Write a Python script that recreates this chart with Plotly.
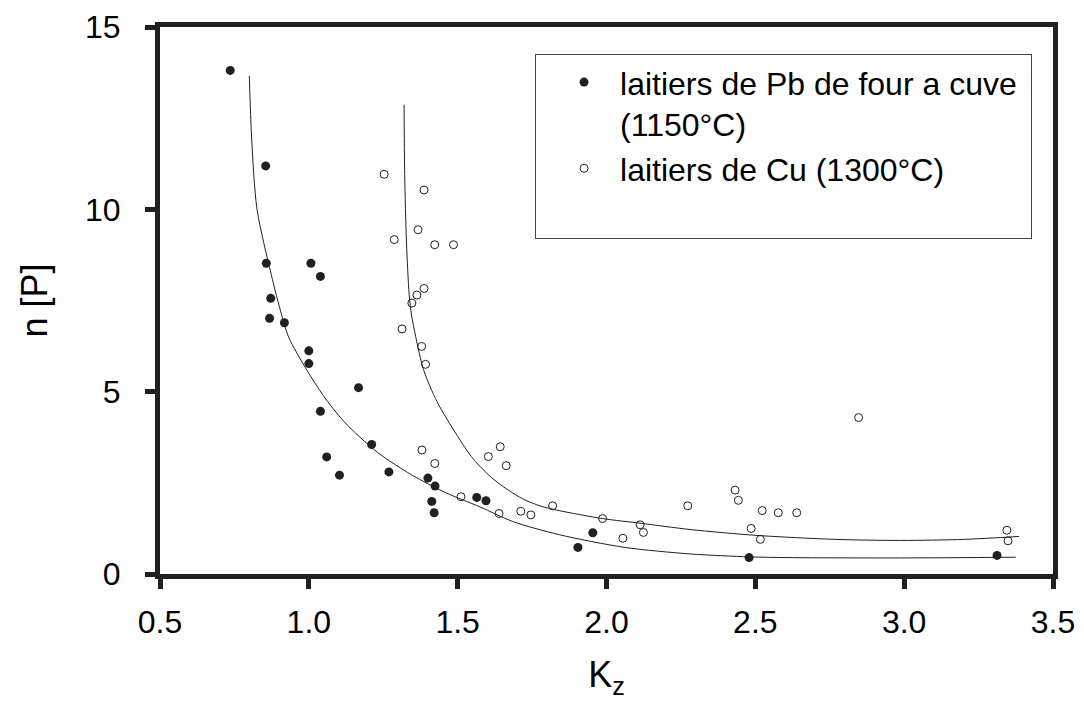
import plotly.graph_objects as go

# ---- data ----
pb_k = [0.736, 0.855, 0.857, 1.007, 1.039, 0.872, 0.868, 0.918, 1.000, 1.000,
        1.167, 1.039, 1.211, 1.060, 1.103, 1.269, 1.400, 1.424, 1.413, 1.421,
        1.564, 1.595, 1.954, 1.904, 2.479, 3.312]
pb_n = [13.81, 11.19, 8.52, 8.52, 8.16, 7.56, 7.01, 6.89, 6.12, 5.77,
        5.11, 4.46, 3.55, 3.21, 2.71, 2.80, 2.63, 2.41, 1.99, 1.68,
        2.10, 2.01, 1.13, 0.73, 0.45, 0.51]

cu_k = [1.253, 1.387, 1.367, 1.287, 1.423, 1.486, 1.387, 1.363, 1.346, 1.313,
        1.379, 1.392, 1.380, 1.423, 1.603, 1.643, 1.663, 1.511, 1.639, 1.712,
        1.746, 1.819, 1.987, 2.055, 2.113, 2.124, 2.273, 2.432, 2.443, 2.486,
        2.517, 2.523, 2.577, 2.639, 2.847, 3.345, 3.349]
cu_n = [10.96, 10.53, 9.44, 9.17, 9.03, 9.03, 7.83, 7.65, 7.43, 6.72,
        6.24, 5.75, 3.40, 3.03, 3.22, 3.49, 2.97, 2.12, 1.66, 1.72,
        1.62, 1.87, 1.52, 0.98, 1.35, 1.14, 1.87, 2.30, 2.02, 1.25,
        0.95, 1.74, 1.68, 1.68, 4.29, 1.20, 0.91]

# fitted curves
pb_fit_k = [0.800, 0.808, 0.826, 0.880, 0.902, 0.932, 0.992, 1.049, 1.118, 1.230,
            1.345, 1.460, 1.575, 1.685, 1.840, 2.061, 2.281, 2.480, 2.613, 2.988, 3.375]
pb_fit_n = [13.66, 11.93, 10.00, 8.00, 7.30, 6.50, 5.61, 4.89, 4.18, 3.34,
            2.72, 2.23, 1.84, 1.44, 1.08, 0.73, 0.55, 0.47, 0.45, 0.44, 0.46]

cu_fit_k = [1.320, 1.322, 1.328, 1.337, 1.345, 1.359, 1.385, 1.431, 1.498, 1.553,
            1.620, 1.685, 1.729, 1.780, 1.840, 1.987, 2.116, 2.281, 2.502, 2.767,
            2.987, 3.202, 3.386]
cu_fit_n = [12.87, 10.96, 9.10, 7.67, 7.10, 6.51, 5.61, 4.72, 3.80, 3.15,
            2.60, 2.22, 2.02, 1.86, 1.74, 1.52, 1.39, 1.22, 1.06, 0.95,
            0.92, 0.95, 1.03]

x_ticks = [0.5, 1.0, 1.5, 2.0, 2.5, 3.0, 3.5]
x_tick_labels = ["0.5", "1.0", "1.5", "2.0", "2.5", "3.0", "3.5"]
y_ticks = [0, 5, 10, 15]
y_tick_labels = ["0", "5", "10", "15"]

name_pb = "laitiers de Pb de four a cuve\u00a0<br>(1150°C)"
name_cu = "laitiers de Cu (1300°C)<br> "

INK = "#231f20"
FONT = "Liberation Sans, Arial, sans-serif"

fig = go.Figure()
fig.add_trace(go.Scatter(x=pb_fit_k, y=pb_fit_n, mode="lines",
                         line=dict(color=INK, width=1, shape="spline", smoothing=0.8),
                         showlegend=False, hoverinfo="skip"))
fig.add_trace(go.Scatter(x=cu_fit_k, y=cu_fit_n, mode="lines",
                         line=dict(color=INK, width=1, shape="spline", smoothing=0.8),
                         showlegend=False, hoverinfo="skip"))
fig.add_trace(go.Scatter(x=pb_k, y=pb_n, mode="markers", name=name_pb,
                         marker=dict(symbol="circle", size=9, color=INK)))
fig.add_trace(go.Scatter(x=cu_k, y=cu_n, mode="markers", name=name_cu,
                         marker=dict(symbol="circle-open", size=8, color=INK,
                                     line=dict(width=1, color=INK))))

axis_common = dict(
    showline=True, linewidth=5, linecolor=INK, mirror=True,
    ticks="outside", ticklen=10, tickwidth=5, tickcolor=INK,
    showgrid=False, zeroline=False,
    tickfont=dict(family=FONT, size=32, color="black"),
)

fig.update_xaxes(range=[0.5, 3.5], tickvals=x_ticks, ticktext=x_tick_labels,
                 title=dict(text="K<sub>z</sub>", font=dict(family=FONT, size=36, color="black"),
                            standoff=24),
                 ticklabelstandoff=6, **axis_common)
fig.update_yaxes(range=[0, 15], tickvals=y_ticks, ticktext=y_tick_labels,
                 title=dict(text="n [P]", font=dict(family=FONT, size=36, color="black"),
                            standoff=28),
                 ticklabelstandoff=18, **axis_common)

fig.update_layout(
    width=1084, height=703,
    margin=dict(l=152, r=39, t=19, b=137, autoexpand=False),
    paper_bgcolor="white", plot_bgcolor="white",
    font=dict(family=FONT, color="black"),
    legend=dict(x=0.42, y=0.951, xanchor="left", yanchor="top",
                bgcolor="white", bordercolor="#444444", borderwidth=1,
                font=dict(family=FONT, size=32, color="black"),
                valign="top", indentation=12, itemwidth=62),
    showlegend=True,
)

fig.write_html("out.html")
